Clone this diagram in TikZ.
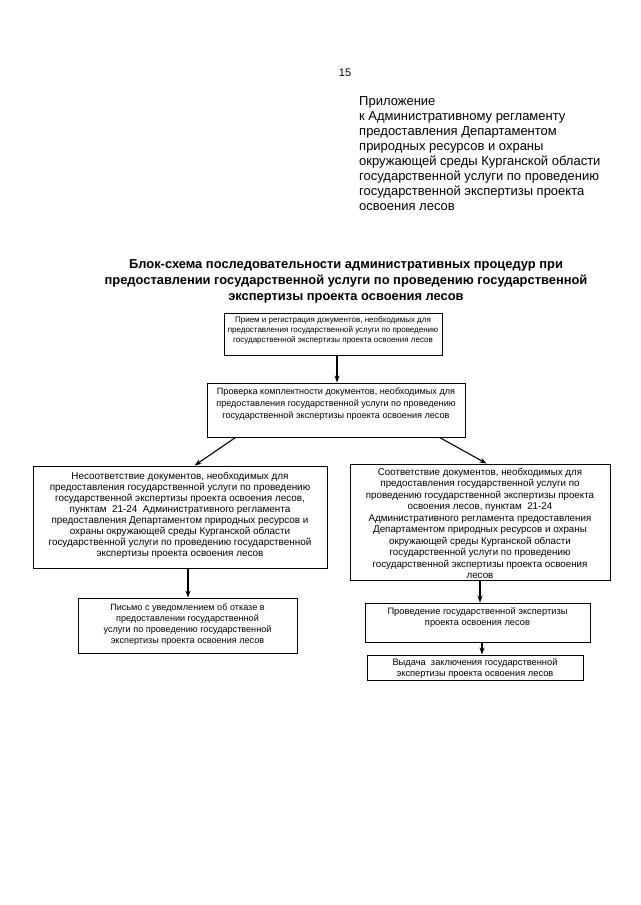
\documentclass[tikz,border=0pt]{standalone}
\usepackage{fontspec}
\setmainfont{Liberation Sans}
\usetikzlibrary{arrows.meta}
\begin{document}
\begin{tikzpicture}[x=1pt,y=-1pt,
 box/.style={draw, line width=0.9pt, inner sep=0pt},
 txt/.style={font=\fontsize{9.3}{11.5}\selectfont, align=center, inner sep=0pt, anchor=north},
 arr/.style={-{Stealth[length=7pt,width=5pt]}, line width=1.1pt}]
\useasboundingbox[fill=white] (0,0) rectangle (640,905);

\node[font=\fontsize{11}{13}\selectfont] (pg) at (345,73) {15};
\node[font=\fontsize{13}{15}\selectfont, align=left, anchor=north west, inner sep=0pt] (app) at (359,96) {Приложение\\
к Административному регламенту\\
предоставления Департаментом\\
природных ресурсов и охраны\\
окружающей среды Курганской области\\
государственной услуги по проведению\\
государственной экспертизы проекта\\
освоения лесов};

\node[font=\bfseries\fontsize{12.9}{16}\selectfont, align=center, anchor=north, inner sep=0pt] (title) at (346,259) {Блок-схема последовательности административных процедур при\\
предоставлении государственной услуги по проведению государственной\\
экспертизы проекта освоения лесов};

\node[box, minimum width=218, minimum height=42] (b1) at (333,334) {};
\node[box, minimum width=258, minimum height=54] (b2) at (336,410) {};
\node[box, minimum width=294, minimum height=102] (b3) at (180,517) {};
\node[box, minimum width=260, minimum height=116] (b4) at (480,522) {};
\node[box, minimum width=219, minimum height=55] (b5) at (187.5,625.5) {};
\node[box, minimum width=225, minimum height=39] (b6) at (477.5,622.5) {};
\node[box, minimum width=216, minimum height=25] (b7) at (475,667.5) {};

\node[txt, font=\fontsize{8}{9.8}\selectfont] (t1) at (333,316.5) {Прием и регистрация документов, необходимых для\\
предоставления государственной услуги по проведению\\
государственной экспертизы проекта освоения лесов};
\node[txt, font=\fontsize{9.1}{11.8}\selectfont] (t2) at (336,388) {Проверка комплектности документов, необходимых для\\
предоставления государственной услуги по проведению\\
государственной экспертизы проекта освоения лесов};
\node[txt, font=\fontsize{9.9}{11}\selectfont] (t3) at (180,472.5) {Несоответствие документов, необходимых для\\
предоставления государственной услуги по проведению\\
государственной экспертизы проекта освоения лесов,\\
пунктам\ \ 21-24\ \ Административного регламента\\
предоставления Департаментом природных ресурсов и\\
охраны окружающей среды Курганской области\\
государственной услуги по проведению государственной\\
экспертизы проекта освоения лесов};
\node[txt, font=\fontsize{9.8}{11.5}\selectfont] (t4) at (480,468) {Соответствие документов, необходимых для\\
предоставления государственной услуги по\\
проведению государственной экспертизы проекта\\
освоения лесов, пунктам\ \ 21-24\\
Административного регламента предоставления\\
Департаментом природных ресурсов и охраны\\
окружающей среды Курганской области\\
государственной услуги по проведению\\
государственной экспертизы проекта освоения\\
лесов};
\node[txt, font=\fontsize{9.1}{11}\selectfont] (t5) at (187.5,603.5) {Письмо с уведомлением об отказе в\\
предоставлении государственной\\
услуги по проведению государственной\\
экспертизы проекта освоения лесов};
\node[txt] (t6) at (477.5,607) {Проведение государственной экспертизы\\
проекта освоения лесов};
\node[txt] (t7) at (475,658) {Выдача\ \ заключения государственной\\
экспертизы проекта освоения лесов};

\draw[arr] ([xshift=4pt]b1.south) -- ([xshift=4pt]b1.south |- b2.north);
\draw[arr] ([xshift=29pt]b2.south west) -- ([xshift=162pt]b3.north west);
\draw[arr] ([xshift=233pt]b2.south west) -- ([xshift=137pt]b4.north west);
\draw[arr] ([xshift=8pt]b3.south) -- ([xshift=8pt]b3.south |- b5.north);
\draw[arr] (b4.south) -- (b4.south |- b6.north);
\draw[arr] ([xshift=4.5pt]b6.south) -- ([xshift=4.5pt]b6.south |- b7.north);
\end{tikzpicture}
\end{document}
